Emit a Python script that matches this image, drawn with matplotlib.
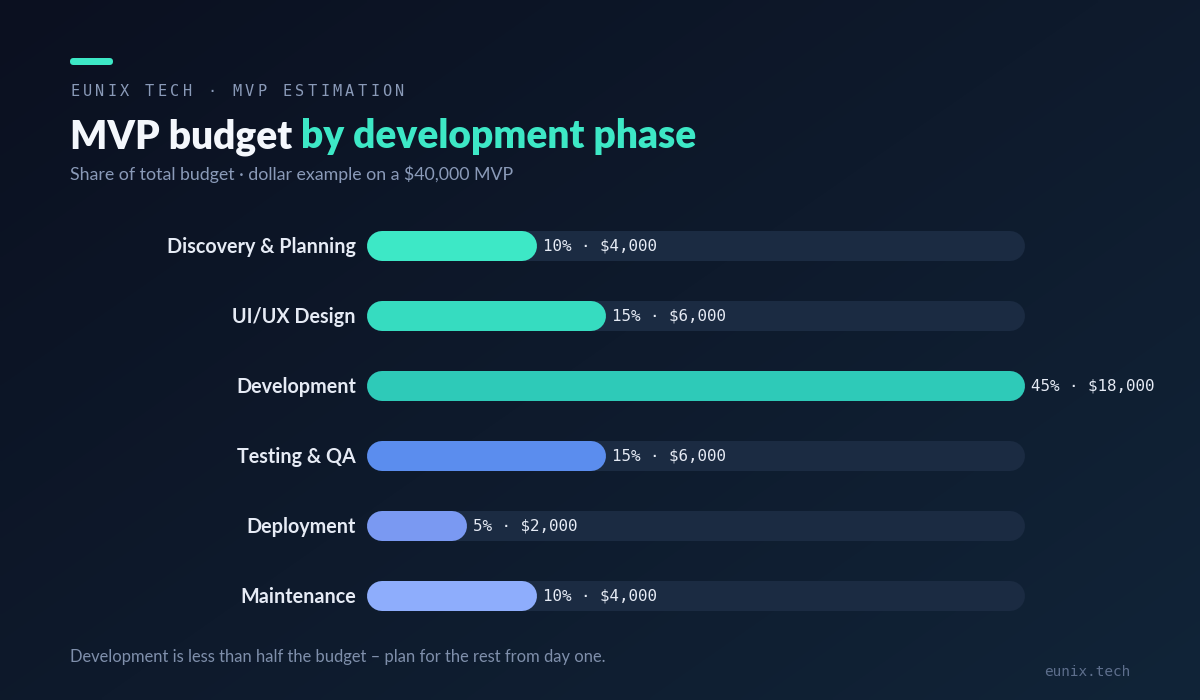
import numpy as np
import matplotlib
matplotlib.use('Agg')
import matplotlib.pyplot as plt
from matplotlib.patches import FancyBboxPatch

# data
phases = ['Discovery & Planning', 'UI/UX Design', 'Development',
          'Testing & QA', 'Deployment', 'Maintenance']
shares = [10, 15, 45, 15, 5, 10]
dollars = [4000, 6000, 18000, 6000, 2000, 4000]
bar_colors = ['#3de8c6', '#36dcc0', '#2ecab8', '#5b8dee', '#7a99f2', '#8eadfc']
scale_max = 45

W, H = 1200, 700
DPI = 100
fig = plt.figure(figsize=(W / DPI, H / DPI), dpi=DPI)

# background gradient
bg = fig.add_axes([0, 0, 1, 1])
gx, gy = np.meshgrid(np.linspace(0, 1, 300), np.linspace(0, 1, 175))
t = np.clip((gx * 0.6 + gy * 0.5) / 1.1, 0, 1)
c0 = np.array([11, 16, 32]) / 255
c1 = np.array([17, 36, 56]) / 255
img = c0[None, None, :] * (1 - t[..., None]) + c1[None, None, :] * t[..., None]
bg.imshow(img, extent=[0, W, H, 0], aspect='auto', interpolation='bilinear')
bg.set_xlim(0, W)
bg.set_ylim(H, 0)
bg.axis('off')

# accent pill
bg.add_patch(FancyBboxPatch((70, 58), 43, 7, boxstyle='round,pad=0,rounding_size=3.5',
                            fc='#3de8c6', ec='none'))

# kicker with letter spacing
kicker = 'EUNIX TECH · MVP ESTIMATION'
for i, ch in enumerate(kicker):
    bg.text(70 + i * 12.5, 96, ch, family='DejaVu Sans Mono', fontsize=11,
            color='#8a9ab8', ha='left', va='baseline')

# title in two colours
t1 = bg.text(70, 148, 'MVP budget ', family='Lato', weight='heavy', fontsize=28,
             color='#f4f7fc', ha='left', va='baseline')
fig.canvas.draw()
bb = t1.get_window_extent()
x2 = bb.x1  # pixel coords, same as data since bg spans the figure
bg.text(x2, 148, 'by development phase', family='Lato', weight='heavy', fontsize=28,
        color='#3de8c6', ha='left', va='baseline')

bg.text(70, 180, 'Share of total budget · dollar example on a $40,000 MVP',
        family='Lato', fontsize=12.8, color='#8a9ab8', ha='left', va='baseline')

bg.text(70, 662, 'Development is less than half the budget – plan for the rest from day one.',
        family='Lato', fontsize=11.9, color='#7f8fab', ha='left', va='baseline')
bg.text(1130, 676, 'eunix.tech', family='DejaVu Sans Mono', fontsize=10.4,
        color='#5d6e8c', ha='right', va='baseline')

# bars axes: x in percent, rows 70px apart
left, right = 382, 1010
top, bottom = 211, 631
ax = fig.add_axes([left / W, 1 - bottom / H, (right - left) / W, (bottom - top) / H])
ax.patch.set_alpha(0)
ax.set_xlim(0, scale_max)
ax.set_ylim(len(phases) - 0.5, -0.5)
ax.axis('off')

lw = 30 * 72 / DPI
for i, (name, s, d, c) in enumerate(zip(phases, shares, dollars, bar_colors)):
    ax.plot([0, scale_max], [i, i], color='#1b2b42', lw=lw, solid_capstyle='round',
            zorder=1, clip_on=False)
    ax.plot([0, s], [i, i], color=c, lw=lw, solid_capstyle='round', zorder=2, clip_on=False)
    ax.annotate(f'{s}% · ${d:,}', xy=(s, i), xytext=(21, 0), textcoords='offset pixels',
                family='DejaVu Sans Mono', fontsize=11.4, color='#e6ebf5',
                ha='left', va='center', zorder=3)
    ax.annotate(name, xy=(0, i), xytext=(-26, -7), textcoords='offset pixels',
                family='Lato', weight='bold', fontsize=14.2, color='#e6ebf5',
                ha='right', va='baseline', zorder=3)

fig.savefig('out.png', dpi=DPI)
